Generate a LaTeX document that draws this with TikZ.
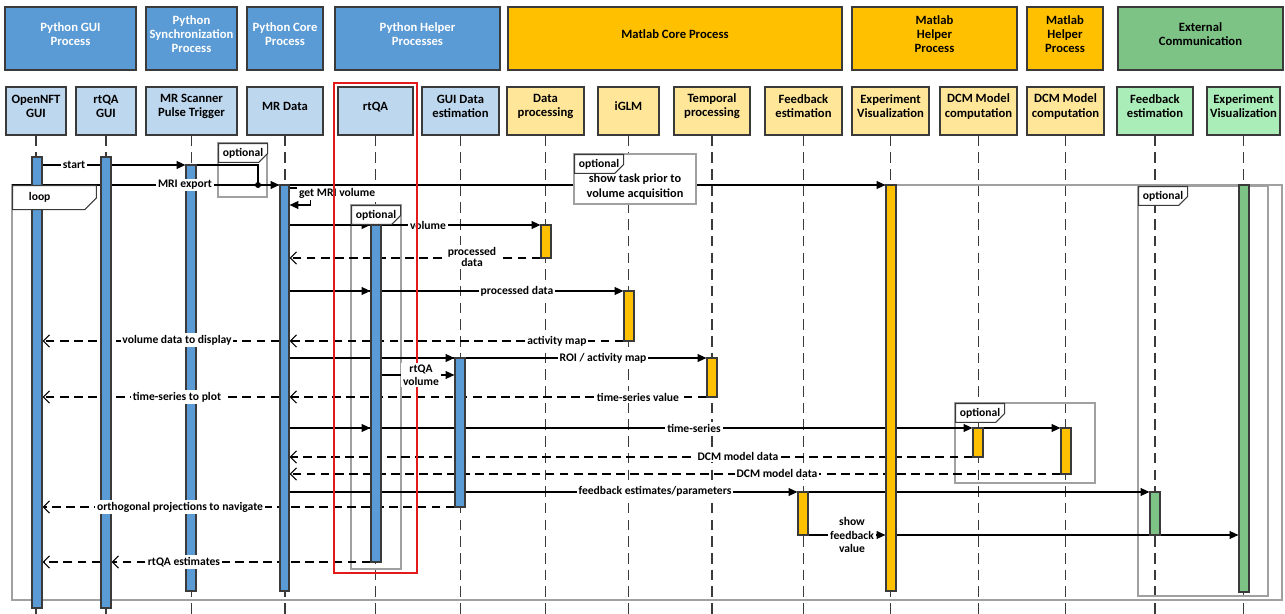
\documentclass[tikz,border=0pt]{standalone}
\usepackage{fontspec}
\setmainfont{Carlito}
\usepackage{xcolor}
\usepackage{tikz}
\usetikzlibrary{arrows.meta,positioning,fit,shapes.misc}
\definecolor{pyblue}{HTML}{5B9BD5}
\definecolor{pylight}{HTML}{BDD7EE}
\definecolor{mlgold}{HTML}{FFC000}
\definecolor{mllight}{HTML}{FFE699}
\definecolor{exgreen}{HTML}{7DC385}
\definecolor{exlight}{HTML}{ABEDB8}
\definecolor{boxline}{HTML}{3A3A3A}
\definecolor{fragline}{HTML}{A0A0A0}
\definecolor{redline}{HTML}{E31A1C}
\pgfdeclarelayer{back}
\pgfsetlayers{back,main}

\begin{document}
\begin{tikzpicture}[x=0.02cm, y=-0.02cm,
    every node/.style={font=\bfseries\fontsize{7.2}{8}\selectfont, align=center},
    hdr/.style={draw=boxline, line width=1pt, inner sep=0pt},
    part/.style={draw=boxline, line width=0.8pt, inner sep=0pt},
    act/.style={draw=boxline, line width=0.7pt, inner sep=0pt},
    lifeline/.style={draw=boxline, line width=0.7pt, dash pattern=on 6pt off 3.5pt},
    msg/.style={-{Triangle[length=5pt,width=4.5pt]}, line width=0.6pt},
    reply/.style={-{Straight Barb[length=3.5pt,width=7pt]}, line width=0.6pt, dash pattern=on 5pt off 3pt},
    lbl/.style={fill=white, inner sep=1pt, font=\bfseries\fontsize{6.6}{6.8}\selectfont},
    fragbox/.style={draw=fragline, line width=0.6pt},
    tag/.style={chamfered rectangle, chamfered rectangle corners=south east, chamfered rectangle xsep=2.5pt, chamfered rectangle ysep=2.5pt, draw=boxline, line width=0.6pt, fill=white, inner sep=0pt, minimum width=0.98cm, minimum height=0.3cm, font=\bfseries\fontsize{6.6}{6.8}\selectfont}]
    \useasboundingbox (0,0) rectangle (1285,614);

    % process groups
    \node[hdr, fill=pyblue, text=white, fit={(5,7)(136,70)}] (hPyGui) {Python GUI\\Process};
    \node[hdr, fill=pyblue, text=white, fit={(146,7)(237,70)}] (hPySync) {Python\\Synchronization\\Process};
    \node[hdr, fill=pyblue, text=white, fit={(247,7)(323,70)}] (hPyCore) {Python Core\\Process};
    \node[hdr, fill=pyblue, text=white, fit={(335,7)(500,70)}] (hPyHelp) {Python Helper\\Processes};
    \node[hdr, fill=mlgold, fit={(508,7)(842,70)}] (hMlCore) {Matlab Core Process};
    \node[hdr, fill=mlgold, fit={(852,7)(1017,70)}] (hMlHelpA) {Matlab\\Helper\\Process};
    \node[hdr, fill=mlgold, fit={(1027,7)(1103,70)}] (hMlHelpB) {Matlab\\Helper\\Process};
    \node[hdr, fill=exgreen, fit={(1118,7)(1283,70)}] (hExt) {External\\Communication};

    % participants
    \node[part, fill=pylight, fit={(6,87)(66,135)}] (pOpen) {OpenNFT\\GUI};
    \node[part, fill=pylight, fit={(76,87)(136,135)}] (pRtGui) {rtQA\\GUI};
    \node[part, fill=pylight, fit={(146,87)(237,135)}] (pTrig) {MR Scanner\\Pulse Trigger};
    \node[part, fill=pylight, fit={(247,87)(323,135)}] (pMr) {MR Data};
    \node[part, fill=pylight, fit={(338,87)(413,135)}] (pRtqa) {rtQA};
    \node[part, fill=pylight, fit={(422,87)(499,135)}] (pGuiData) {GUI Data\\estimation};
    \node[part, fill=mllight, fit={(507,87)(584,135)}] (pProc) {Data\\processing};
    \node[part, fill=mllight, fit={(598,87)(659,135)}] (pGlm) {iGLM};
    \node[part, fill=mllight, fit={(674,87)(750,135)}] (pTemp) {Temporal\\processing};
    \node[part, fill=mllight, fit={(765,87)(842,135)}] (pFb) {Feedback\\estimation};
    \node[part, fill=mllight, fit={(852,87)(929,135)}] (pVis) {Experiment\\Visualization};
    \node[part, fill=mllight, fit={(940,87)(1017,135)}] (pDcmA) {DCM Model\\computation};
    \node[part, fill=mllight, fit={(1027,87)(1104,135)}] (pDcmB) {DCM Model\\computation};
    \node[part, fill=exlight, fit={(1117,87)(1193,135)}] (pFbX) {Feedback\\estimation};
    \node[part, fill=exlight, fit={(1207,87)(1280,135)}] (pVisX) {Experiment\\Visualization};

    \coordinate (bottom) at (0,614);
    \begin{pgfonlayer}{back}
        \foreach \p in {pOpen,pRtGui,pTrig,pMr,pRtqa,pGuiData,pProc,pGlm,pTemp,pFb,pVis,pDcmA,pDcmB,pFbX,pVisX}
            \draw[lifeline] (\p.south) -- (\p.south |- bottom);
        % frames
        \draw[fragbox] (12,185) rectangle (1282,600);
        \draw[fragbox] (218,143) rectangle (267,197);
        \draw[fragbox] (351,205) rectangle (401,569);
        \draw[fragbox] (955,403) rectangle (1095,483);
        \draw[fragbox] (1138,186) rectangle (1268,596);
    \end{pgfonlayer}

    % activations
    \node[act, fill=pyblue, fit={(32,157)(42,608)}] (aOpen) {};
    \node[act, fill=pyblue, fit={(101,157)(111,608)}] (aRtGui) {};
    \node[act, fill=pyblue, fit={(186,165)(196,591)}] (aTrig) {};
    \node[act, fill=pyblue, fit={(280,185)(289,591)}] (aMr) {};
    \node[act, fill=pyblue, fit={(371,225)(381,562)}] (aRtqa) {};
    \node[act, fill=pyblue, fit={(455,358)(465,507)}] (aGuiData) {};
    \node[act, fill=mlgold, fit={(541,225)(551,258)}] (aProc) {};
    \node[act, fill=mlgold, fit={(624,291)(634,341)}] (aGlm) {};
    \node[act, fill=mlgold, fit={(707,358)(717,397)}] (aTemp) {};
    \node[act, fill=mlgold, fit={(798,492)(808,535)}] (aFb) {};
    \node[act, fill=mlgold, fit={(886,185)(896,591)}] (aVis) {};
    \node[act, fill=mlgold, fit={(973,428)(983,457)}] (aDcmA) {};
    \node[act, fill=mlgold, fit={(1061,428)(1071,474)}] (aDcmB) {};
    \node[act, fill=exgreen, fit={(1150,492)(1160,535)}] (aFbX) {};
    \node[act, fill=exgreen, fit={(1239,185)(1249,592)}] (aVisX) {};

    % message rows
    \coordinate (yStart) at (0,165);
    \coordinate (yExp) at (0,185);
    \coordinate (yGetA) at (0,188);
    \coordinate (yGetB) at (0,205);
    \coordinate (yVol) at (0,225);
    \coordinate (yPd) at (0,258);
    \coordinate (yPdB) at (0,291);
    \coordinate (yAct) at (0,341);
    \coordinate (yRoi) at (0,358);
    \coordinate (yRtv) at (0,375);
    \coordinate (yTs) at (0,397);
    \coordinate (yTsr) at (0,428);
    \coordinate (yDcmA) at (0,457);
    \coordinate (yDcmB) at (0,474);
    \coordinate (yFbp) at (0,492);
    \coordinate (yOrt) at (0,507);
    \coordinate (yShow) at (0,535);
    \coordinate (yRte) at (0,562);
    \coordinate (loopNW) at (12,185);
    \coordinate (dotPt) at (258,185);

    \begin{pgfonlayer}{back}
        \draw[msg] (aOpen.east |- yStart) -- (aTrig.west |- yStart);
        \draw[line width=0.6pt] (aTrig.east |- yStart) -| (dotPt);
        \draw[line width=0.6pt] (loopNW) -- (dotPt);
        \fill (dotPt) circle (1.7pt);
        \draw[msg] (dotPt) -- (aMr.west |- yExp);
        \draw[msg] (aMr.east |- yExp) -- (aVis.west |- yExp);
        \draw[msg] (aMr.east |- yGetA) -- ++(21,0) |- (aMr.east |- yGetB);
        \draw[msg] (aMr.east |- yVol) -- (aRtqa.west |- yVol);
        \draw[msg] (aMr.east |- yVol) -- (aProc.west |- yVol);
        \draw[reply] (aProc.west |- yPd) -- (aMr.east |- yPd);
        \draw[msg] (aMr.east |- yPdB) -- (aRtqa.west |- yPdB);
        \draw[msg] (aMr.east |- yPdB) -- (aGlm.west |- yPdB);
        \draw[reply] (aGlm.west |- yAct) -- (aMr.east |- yAct);
        \draw[reply] (aMr.west |- yAct) -- (aOpen.east |- yAct);
        \draw[msg] (aMr.east |- yRoi) -- (aGuiData.west |- yRoi);
        \draw[msg] (aMr.east |- yRoi) -- (aTemp.west |- yRoi);
        \draw[msg] (aRtqa.east |- yRtv) -- (aGuiData.west |- yRtv);
        \draw[reply] (aTemp.west |- yTs) -- (aMr.east |- yTs);
        \draw[reply] (aMr.west |- yTs) -- (aOpen.east |- yTs);
        \draw[msg] (aMr.east |- yTsr) -- (aRtqa.west |- yTsr);
        \draw[msg] (aMr.east |- yTsr) -- (aDcmA.west |- yTsr);
        \draw[msg] (aDcmA.east |- yTsr) -- (aDcmB.west |- yTsr);
        \draw[reply] (aDcmA.west |- yDcmA) -- (aMr.east |- yDcmA);
        \draw[reply] (aDcmB.west |- yDcmB) -- (aMr.east |- yDcmB);
        \draw[msg] (aMr.east |- yFbp) -- (aFb.west |- yFbp);
        \draw[msg] (aFb.east |- yFbp) -- (aFbX.west |- yFbp);
        \draw[reply] (aGuiData.west |- yOrt) -- (aOpen.east |- yOrt);
        \draw[msg] (aFb.east |- yShow) -- (aVis.west |- yShow);
        \draw[msg] (aVis.east |- yShow) -- (aVisX.west |- yShow);
        \draw[reply] (aRtqa.west |- yRte) -- (aRtGui.east |- yRte);
        \draw[reply] (aRtGui.west |- yRte) -- (aOpen.east |- yRte);
    \end{pgfonlayer}

    % labels
    \node[lbl] (lStart) at (74,165) {start};
    \node[lbl] (lExport) at (185,185) {MRI export};
    \node[lbl, anchor=west] (lGet) at (297,193) {get MRI volume};
    \node[lbl] (lVol) at (428,225) {volume};
    \node[lbl] (lPd) at (472,257) {processed\\data};
    \node[lbl] (lPdB) at (517,291) {processed data};
    \node[lbl] (lAct) at (557,341) {activity map};
    \node[lbl] (lDisp) at (177,340) {volume data to display};
    \node[lbl] (lRoi) at (603,358) {ROI / activity map};
    \node[lbl] (lTsv) at (638,397) {time-series value};
    \node[lbl] (lPlot) at (177,397) {time-series to plot};
    \node[lbl] (lTsr) at (694,428) {time-series};
    \node[lbl] (lDcmA) at (738,456) {DCM model data};
    \node[lbl] (lDcmB) at (777,473) {DCM model data};
    \node[lbl] (lFbp) at (655,491) {feedback estimates/parameters};
    \node[lbl] (lOrt) at (180,507) {orthogonal projections to navigate};
    \node[lbl] (lShow) at (852,535) {show\\[1pt]feedback\\[1pt]value};
    \node[lbl] (lRte) at (184,562) {rtQA estimates};

    % note and tags
    \node[fragbox, fill=white, inner sep=0pt, fit={(574,154)(696,204)}] (nTask) {};
    \node[font=\bfseries\fontsize{7}{8.4}\selectfont] (nTaskTxt) at (635,187) {show task prior to\\volume acquisition};
    \node[tag, anchor=north west, minimum width=1.5cm, minimum height=0.44cm, chamfered rectangle ysep=4pt, text width=1.02cm, align=left, inner xsep=0.24cm] (tLoop) at (12,185) {loop};
    \node[tag, anchor=north west] (tTrig) at (218,143) {optional};
    \node[tag, anchor=north west] (tRtqa) at (351,205) {optional};
    \node[tag, anchor=north west] (tTask) at (574,154) {optional};
    \node[tag, anchor=north west] (tDcm) at (955,403) {optional};
    \node[tag, anchor=north west] (tExt) at (1138,186) {optional};

    \draw[redline, line width=1.7pt] (334,83) rectangle (417,573);
    \node[lbl, font=\bfseries\fontsize{6.6}{7.4}\selectfont] (lRtv) at (421,375) {rtQA\\volume};
\end{tikzpicture}
\end{document}
